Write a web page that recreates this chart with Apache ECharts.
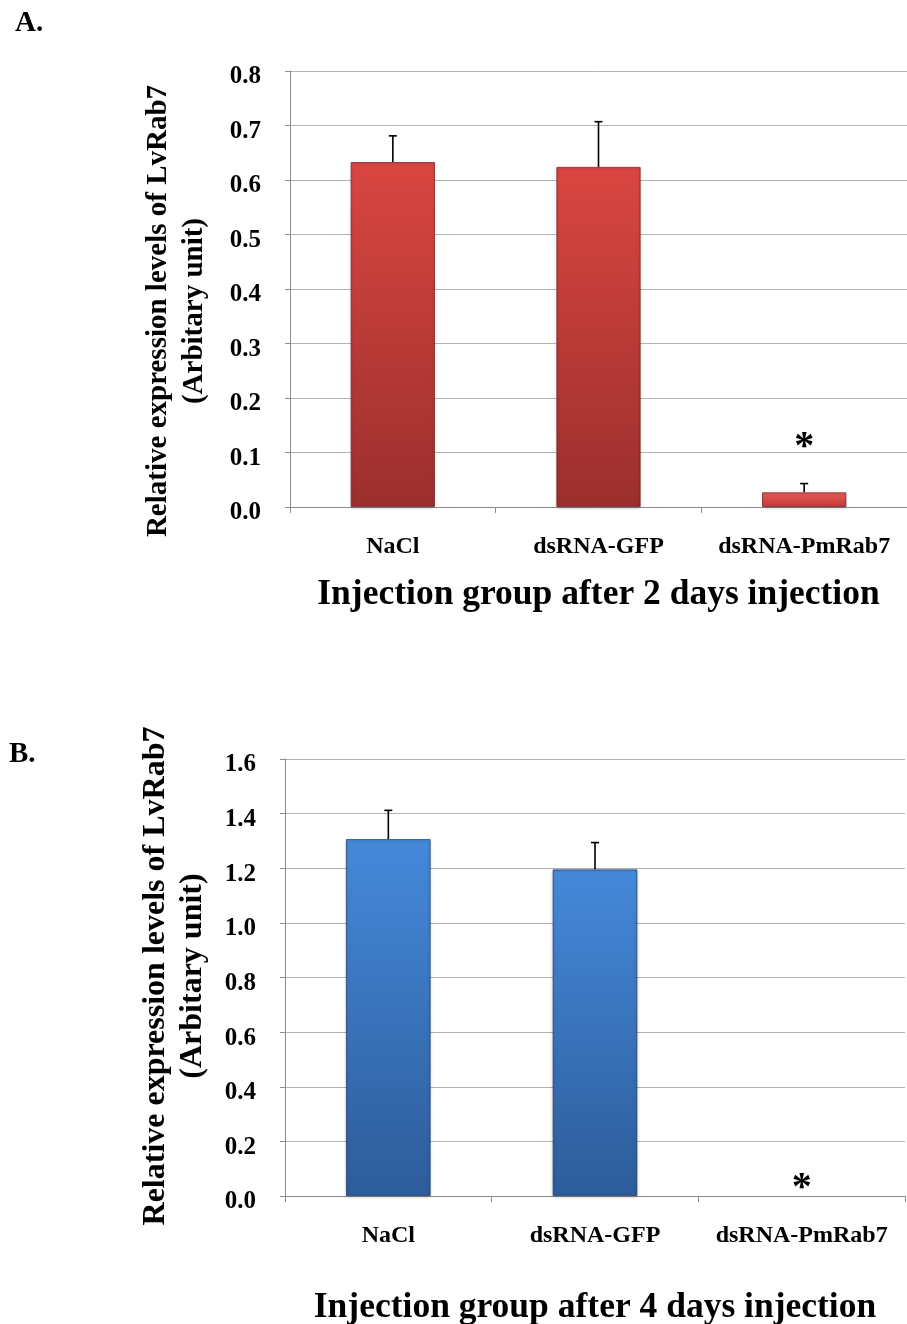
<!DOCTYPE html>
<html><head><meta charset="utf-8">
<script src="https://cdn.jsdelivr.net/npm/echarts@6/dist/echarts.min.js"></script>
<style>html,body{margin:0;padding:0;background:#fff}#c{width:907px;height:1324px}</style>
</head><body><div id="c"></div>
<script>
const categories = ['NaCl', 'dsRNA-GFP', 'dsRNA-PmRab7'];
const valuesA = [0.633, 0.624, 0.027];
const errUpperA = [0.681, 0.707, 0.043];
const starA = [null, null, 0.108];
const valuesB = [1.307, 1.196, 0.0];
const errUpperB = [1.412, 1.294, 0.0];
const starB = [null, null, 0.026];
const ticksA = [0, 0.1, 0.2, 0.3, 0.4, 0.5, 0.6, 0.7, 0.8];
const ticksB = [0, 0.2, 0.4, 0.6, 0.8, 1.0, 1.2, 1.4, 1.6];
const yName = 'Relative expression levels of LvRab7\n(Arbitary unit)';
const xNameA = 'Injection group after 2 days injection';
const xNameB = 'Injection group after 4 days injection';

const serif = '"Liberation Serif","Times New Roman",serif';
const chart = echarts.init(document.getElementById('c'));

function grad(top, bottom) {
  return new echarts.graphic.LinearGradient(0, 0, 0, 1, [{offset: 0, color: top}, {offset: 1, color: bottom}]);
}
function errRender(params, api) {
  const x = api.value(0), v = api.value(1), u = api.value(2);
  if (u <= v) return null;
  const p0 = api.coord([x, v]), p1 = api.coord([x, u]);
  return {type: 'group', children: [
    {type: 'line', shape: {x1: p0[0], y1: p0[1], x2: p1[0], y2: p1[1]}, style: {stroke: '#000', lineWidth: 1.6}},
    {type: 'line', shape: {x1: p1[0] - 4, y1: p1[1], x2: p1[0] + 4, y2: p1[1]}, style: {stroke: '#000', lineWidth: 1.6}}
  ]};
}
function starRender(params, api) {
  const p = api.coord([api.value(0), api.value(1)]);
  return {type: 'text', x: p[0], y: p[1], style: {text: '*', font: 'bold 40px ' + serif, fill: '#000', align: 'center', verticalAlign: 'middle'}};
}
function yAxis(gi, ticks, fs) {
  return {
    gridIndex: gi, type: 'value', min: ticks[0], max: ticks[ticks.length - 1], interval: ticks[1] - ticks[0],
    axisLine: {show: true, lineStyle: {color: '#8c8c8c', width: 1}},
    axisTick: {show: true, length: 5, lineStyle: {color: '#8c8c8c'}},
    splitLine: {show: true, lineStyle: {color: '#b3b3b3', width: 1}},
    axisLabel: {
      formatter: v => '{t|' + v.toFixed(1) + '}', margin: 29,
      rich: {t: {fontFamily: serif, fontWeight: 'bold', fontSize: fs, color: '#000', padding: [12, 0, 0, 0]}}
    }
  };
}
function xAxis(gi, name, nameGap) {
  return {
    gridIndex: gi, type: 'category', data: categories,
    axisLine: {show: true, lineStyle: {color: '#8c8c8c'}},
    axisTick: {show: true, length: 6, lineStyle: {color: '#8c8c8c'}},
    axisLabel: {interval: 0, fontFamily: serif, fontWeight: 'bold', fontSize: 24, color: '#000', margin: 28},
    name: name, nameLocation: 'middle', nameGap: nameGap,
    nameTextStyle: {fontFamily: serif, fontWeight: 'bold', fontSize: 35.5, color: '#000'}
  };
}
function barData(values, top, bottom, border, topLast, bottomLast) {
  return values.map((v, i) => ({
    value: v,
    itemStyle: {
      color: (i === values.length - 1 && topLast) ? grad(topLast, bottomLast) : grad(top, bottom),
      borderColor: border, borderWidth: v > 0 ? 1 : 0,
      shadowColor: 'rgba(0,0,0,0.25)', shadowBlur: v > 0 ? 3 : 0, shadowOffsetY: 1
    }
  }));
}
const errA = categories.map((c, i) => [i, valuesA[i], errUpperA[i]]);
const errB = categories.map((c, i) => [i, valuesB[i], errUpperB[i]]);
const stA = starA.map((s, i) => s === null ? null : [i, s]).filter(Boolean);
const stB = starB.map((s, i) => s === null ? null : [i, s]).filter(Boolean);

chart.setOption({
  animation: false,
  title: [
    {text: 'A.', left: 10, top: 4, textStyle: {fontFamily: serif, fontWeight: 'bold', fontSize: 29, color: '#000'}},
    {text: 'B.', left: 4, top: 735, textStyle: {fontFamily: serif, fontWeight: 'bold', fontSize: 29, color: '#000'}}
  ],
  graphic: [
    {type: 'text', x: 177, y: 311, rotation: Math.PI / 2, style: {text: yName, font: 'bold 29px ' + serif, lineHeight: 36, fill: '#000', align: 'center', verticalAlign: 'middle'}},
    {type: 'text', x: 174, y: 976, rotation: Math.PI / 2, style: {text: yName, font: 'bold 32px ' + serif, lineHeight: 37, fill: '#000', align: 'center', verticalAlign: 'middle'}}
  ],
  grid: [
    {left: 290, top: 71, width: 617, height: 436, outerBoundsMode: 'none', containLabel: false},
    {left: 285, top: 759, width: 620, height: 437, outerBoundsMode: 'none', containLabel: false}
  ],
  xAxis: [xAxis(0, xNameA, 70), xAxis(1, xNameB, 94)],
  yAxis: [yAxis(0, ticksA, 25), yAxis(1, ticksB, 25)],
  series: [
    {type: 'bar', xAxisIndex: 0, yAxisIndex: 0, barWidth: '41%', data: barData(valuesA, '#da4641', '#9b2f2d', 'rgba(120,30,30,0.7)', '#ea5b58', '#c23a38')},
    {type: 'custom', xAxisIndex: 0, yAxisIndex: 0, renderItem: errRender, data: errA, z: 5},
    {type: 'custom', xAxisIndex: 0, yAxisIndex: 0, renderItem: starRender, data: stA, z: 5},
    {type: 'bar', xAxisIndex: 1, yAxisIndex: 1, barWidth: '41%', data: barData(valuesB, '#4589da', '#2d5c9a', 'rgba(30,60,110,0.7)')},
    {type: 'custom', xAxisIndex: 1, yAxisIndex: 1, renderItem: errRender, data: errB, z: 5},
    {type: 'custom', xAxisIndex: 1, yAxisIndex: 1, renderItem: starRender, data: stB, z: 5}
  ]
});
</script></body></html>
